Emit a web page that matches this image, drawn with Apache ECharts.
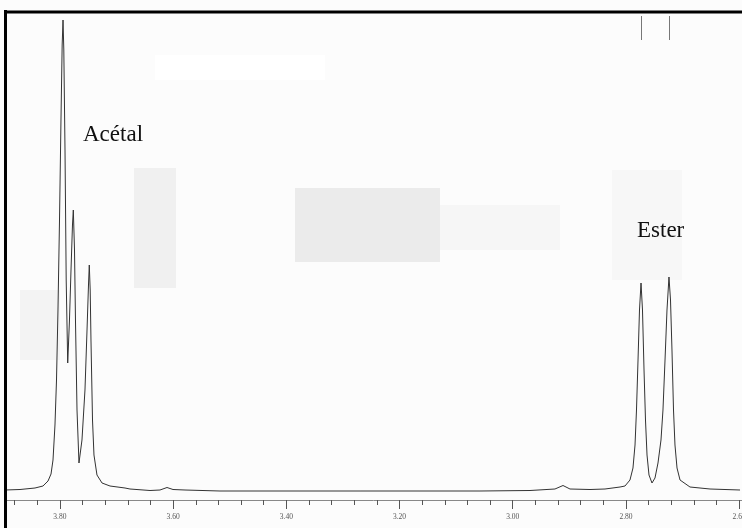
<!DOCTYPE html>
<html>
<head>
<meta charset="utf-8">
<script src="https://cdn.jsdelivr.net/npm/echarts@6/dist/echarts.min.js"></script>
<style>
html,body{margin:0;padding:0;background:#fcfcfc;}
#c{width:742px;height:528px;}
</style>
</head>
<body>
<div id="c"></div>
<script>
// chemical shift (ppm) of each traced point of the spectrum
const shift = [3.897,3.8705,3.844,3.8299,3.821,3.8157,3.8122,3.8087,3.806,3.8034,3.8007,3.7981,3.796,3.7945,3.7931,3.791,3.7889,3.7862,3.7831,3.7804,3.7778,3.7763,3.7742,3.7725,3.7698,3.7663,3.761,3.7557,3.7521,3.7495,3.7481,3.7465,3.7451,3.7424,3.7398,3.7345,3.7256,3.7115,3.685,3.6762,3.6408,3.6232,3.6108,3.6002,3.579,3.5172,3.3759,3.2698,3.1639,3.0579,2.9695,2.9254,2.9112,2.8989,2.8635,2.837,2.8105,2.8017,2.7929,2.7876,2.784,2.7814,2.7787,2.7761,2.7734,2.7708,2.7681,2.7655,2.7628,2.7593,2.754,2.7487,2.7434,2.7381,2.7346,2.731,2.7275,2.724,2.7213,2.7187,2.716,2.7134,2.7098,2.7045,2.6869,2.6515,2.5985];
// signal intensity (arbitrary units) at each shift
const intensity = [-1,-0.5,1,3,8,15,29,64,109,179,269,369,444,469,439,339,209,126,169,219,264,279,239,169,79,26,49,99,159,204,224,199,149,69,34,14,6,3,1,0,-1.5,-1,1.5,-0.5,-1,-2,-2,-2,-2,-2,-1.5,0,3.5,0,-0.5,0,2,3,9,21,44,79,129,179,206,179,119,69,34,14,6,11,26,49,79,129,179,212,189,139,79,44,21,9,2,0,-1];
// axis ticks and labels
const majorTicks = [3.8,3.6,3.4,3.2,3.0,2.8,2.6];
const minorTicks = [3.88,3.84,3.80,3.76,3.72,3.68,3.64,3.60,3.56,3.52,3.48,3.44,3.40,3.36,3.32,3.28,3.24,3.20,3.16,3.12,3.08,3.04,3.00,2.96,2.92,2.88,2.84,2.80,2.76,2.72,2.68,2.64,2.60];
// peak annotations
const peakLabels = ['Acétal', 'Ester'];
const topMarks = [2.7734, 2.724];

const chart = echarts.init(document.getElementById('c'));
const pts = shift.map((s, i) => [s, intensity[i]]);
const xBase = {
  type: 'value', min: 2.595, max: 3.897, inverse: true, scale: true,
  splitLine: {show: false}
};
chart.setOption({
  backgroundColor: '#fcfcfc',
  animation: false,
  grid: {left: 5, width: 737, top: 12, height: 488, containLabel: false, outerBoundsMode: 'none'},
  xAxis: [
    Object.assign({}, xBase, {
      position: 'bottom',
      axisLine: {show: true, onZero: false, lineStyle: {color: '#888', width: 1}},
      axisTick: {show: true, customValues: minorTicks, length: 5, lineStyle: {color: '#555'}},
      axisLabel: {show: true, customValues: majorTicks, margin: 13, hideOverlap: false,
        formatter: v => v.toFixed(2), fontFamily: 'Liberation Serif', fontSize: 7.5, color: '#555'}
    }),
    Object.assign({}, xBase, {
      position: 'bottom',
      axisLine: {show: false, onZero: false},
      axisTick: {show: true, customValues: majorTicks, length: 9, lineStyle: {color: '#555'}},
      axisLabel: {show: false}
    })
  ],
  yAxis: {
    type: 'value', min: -11, max: 477,
    axisLine: {show: false}, axisTick: {show: false}, axisLabel: {show: false}, splitLine: {show: false}
  },
  graphic: [
    {type: 'rect', shape: {x: 295, y: 188, width: 145, height: 74}, style: {fill: '#ebebeb'}, z: -10, silent: true},
    {type: 'rect', shape: {x: 134, y: 168, width: 42, height: 120}, style: {fill: '#f0f0f0'}, z: -10, silent: true},
    {type: 'rect', shape: {x: 440, y: 205, width: 120, height: 45}, style: {fill: '#f6f6f6'}, z: -10, silent: true},
    {type: 'rect', shape: {x: 20, y: 290, width: 40, height: 70}, style: {fill: '#f3f3f3'}, z: -10, silent: true},
    {type: 'rect', shape: {x: 612, y: 170, width: 70, height: 110}, style: {fill: '#f7f7f7'}, z: -10, silent: true},
    {type: 'rect', shape: {x: 155, y: 55, width: 170, height: 25}, style: {fill: '#ffffff'}, z: -10, silent: true},
    {type: 'line', shape: {x1: 5.5, y1: 10, x2: 5.5, y2: 528}, style: {stroke: '#000', lineWidth: 3}, z: 100},
    {type: 'line', shape: {x1: 4, y1: 12, x2: 742, y2: 12}, style: {stroke: '#000', lineWidth: 3}, z: 100},
    {type: 'text', style: {text: peakLabels[0], x: 83, y: 135, font: '23px "Liberation Serif"', fill: '#111', verticalAlign: 'middle'}, z: 100},
    {type: 'text', style: {text: peakLabels[1], x: 637, y: 231, font: '23px "Liberation Serif"', fill: '#111', verticalAlign: 'middle'}, z: 100}
  ],
  series: [{
    type: 'line', data: pts, symbol: 'none', smooth: false, xAxisIndex: 0,
    lineStyle: {color: '#333', width: 1},
    markLine: {
      symbol: 'none', silent: true, label: {show: false},
      lineStyle: {color: '#777', width: 1, type: 'solid'},
      data: topMarks.map(m => [{coord: [m, 449]}, {coord: [m, 473]}])
    }
  }]
});
</script>
</body>
</html>
